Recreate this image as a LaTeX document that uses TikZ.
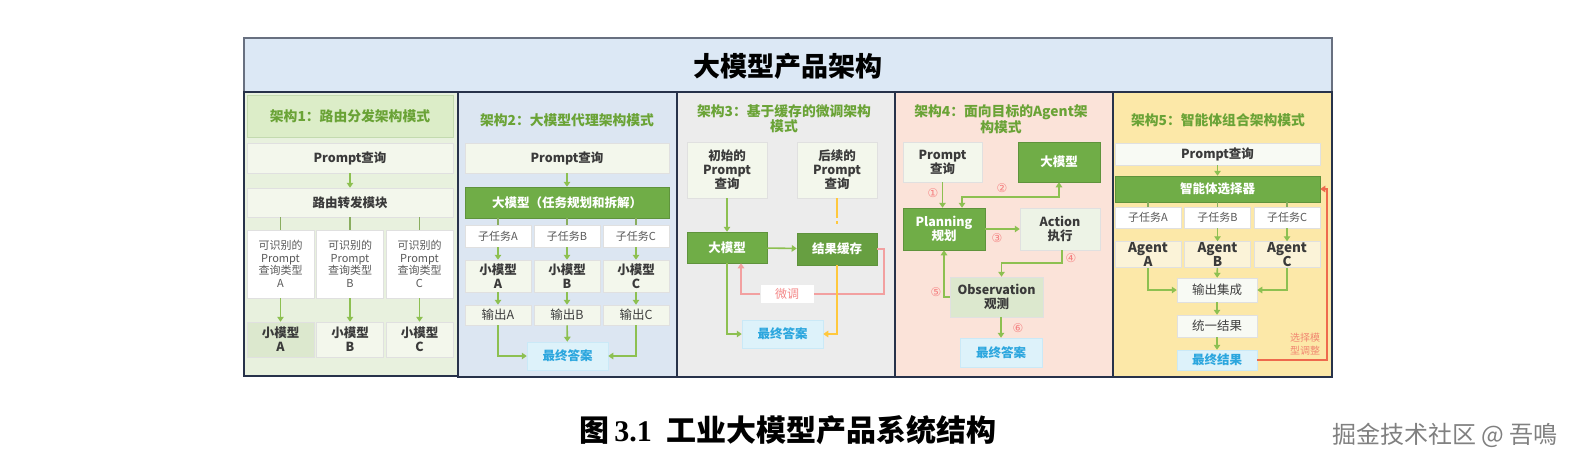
\documentclass[tikz,border=0pt]{standalone}
\usepackage{fontspec}
\usetikzlibrary{arrows.meta, calc}
\newfontfamily\cjk{Noto Sans CJK SC}
\newfontfamily\symfont{DejaVu Sans}
\newfontfamily\capserif{Liberation Serif}

\definecolor{bandblue}{HTML}{DCE8F5}
\definecolor{framenavy}{HTML}{27324A}
\definecolor{bgone}{HTML}{E8F1DE}
\definecolor{bgtwo}{HTML}{DCE6F2}
\definecolor{bgthree}{HTML}{ECECEC}
\definecolor{bgfour}{HTML}{FBE3D9}
\definecolor{bgfive}{HTML}{FCE8A8}
\definecolor{titlegreen}{HTML}{6AA336}
\definecolor{titlebox}{HTML}{DCEDC8}
\definecolor{boxgreen}{HTML}{70AD47}
\definecolor{arrowgreen}{HTML}{8DC051}
\definecolor{anscyan}{HTML}{2BA6DE}
\definecolor{ansfill}{HTML}{DDF2FA}
\definecolor{lightbox}{HTML}{F3F7EC}
\definecolor{obsgreen}{HTML}{DCE8CE}
\definecolor{agentbox}{HTML}{FBF3D8}
\definecolor{pinkline}{HTML}{F2A0A0}
\definecolor{yellowline}{HTML}{FFC83D}
\definecolor{redline}{HTML}{EE6A4D}
\definecolor{textgray}{HTML}{3A3A3A}

\begin{document}
\begin{tikzpicture}[x=1pt, y=-1pt,
  panel/.style={draw=framenavy, line width=1.3pt},
  ptitle/.style={font=\cjk\fontsize{13.8}{15}\selectfont\bfseries, text=titlegreen, align=center},
  sz/.style 2 args={minimum width=#1pt, minimum height=#2pt},
  box/.style={draw=black!12, line width=0.5pt, fill=lightbox, inner sep=0pt, align=center,
    text=textgray, font=\cjk\fontsize{12.5}{14}\selectfont\bfseries},
  thinbox/.style={box, fill=white, text=black!65, font=\cjk\fontsize{11}{12.5}\selectfont},
  outbox/.style={box, text=black!75, font=\cjk\fontsize{12.5}{14}\selectfont},
  gbox/.style={box, fill=boxgreen, draw=boxgreen!85!black, text=white},
  ans/.style={box, fill=ansfill, draw=anscyan!25, text=anscyan},
  agentfont/.style={font=\cjk\fontsize{13.5}{13}\selectfont\bfseries},
  arr/.style={-{Triangle[length=5pt,width=6.5pt]}, draw=arrowgreen, line width=1.6pt},
  tick/.style={draw=arrowgreen!70!gray, line width=1.2pt},
  num/.style={font=\symfont\fontsize{12}{12}\selectfont, text=pinkline!80!red},
]
  \useasboundingbox (0,0) rectangle (1579,467);

  % =============== 总标题栏 ===============
  \draw[fill=bandblue, draw=framenavy!70, line width=1.3pt] (244,38) rectangle (1332,92);
  \node[font=\cjk\fontsize{27}{29}\selectfont\bfseries] (main) at (788,66) {大模型产品架构};

  % 五个分栏底色
  \draw[panel, fill=bgone]   (244,92)  rectangle (458,376);
  \draw[panel, fill=bgtwo]   (458,92)  rectangle (677,377);
  \draw[panel, fill=bgthree] (677,92)  rectangle (895,377);
  \draw[panel, fill=bgfour]  (895,92)  rectangle (1113,377);
  \draw[panel, fill=bgfive]  (1113,92) rectangle (1332,377);

  % =============== 架构1: 路由分发 ===============
  \node[box, sz={206}{42}, fill=titlebox, draw=titlegreen!40, ptitle] (t1) at (350,116) {架构1：路由分发架构模式};
  \node[box, sz={206}{30}] (q1) at (350,158) {Prompt查询};
  \node[box, sz={206}{29}] (r1) at (350,202.5) {路由转发模块};
  \node[thinbox, sz={67}{68}] (c1a) at (280.5,264) {可识别的\\Prompt\\查询类型\\A};
  \node[thinbox, sz={67}{68}] (c1b) at (350,264)   {可识别的\\Prompt\\查询类型\\B};
  \node[thinbox, sz={67}{68}] (c1c) at (419.5,264) {可识别的\\Prompt\\查询类型\\C};
  \node[box, sz={67}{35}, fill=obsgreen] (m1a) at (280.5,339.5) {小模型\\A};
  \node[box, sz={67}{35}] (m1b) at (350,339.5)   {小模型\\B};
  \node[box, sz={67}{35}] (m1c) at (419.5,339.5) {小模型\\C};

  \draw[arr] (q1) -- (r1);
  \foreach \k in {a,b,c}{
    \draw[tick] (r1.south -| c1\k) -- (c1\k.north);
    \draw[arr] (c1\k) -- (m1\k);
  }

  % =============== 架构2: 大模型代理 ===============
  \node[ptitle] (t2) at (567,120) {架构2：大模型代理架构模式};
  \node[box, sz={204}{30}] (q2) at (567,158) {Prompt查询};
  \node[gbox, sz={204}{31}] (l2) at (567,202.5) {大模型（任务规划和拆解）};
  \node[thinbox, sz={66}{22}] (s2a) at (498,236) {子任务A};
  \node[thinbox, sz={66}{22}] (s2b) at (567,236) {子任务B};
  \node[thinbox, sz={66}{22}] (s2c) at (636,236) {子任务C};
  \node[box, sz={66}{32}] (m2a) at (498,276) {小模型\\A};
  \node[box, sz={66}{32}] (m2b) at (567,276) {小模型\\B};
  \node[box, sz={66}{32}] (m2c) at (636,276) {小模型\\C};
  \node[outbox, sz={66}{20}] (o2a) at (498,315) {输出A};
  \node[outbox, sz={66}{20}] (o2b) at (567,315) {输出B};
  \node[outbox, sz={66}{20}] (o2c) at (636,315) {输出C};
  \node[ans, sz={81}{28}] (f2) at (567.5,356) {最终答案};

  \draw[arr] (q2) -- (l2);
  \foreach \k in {a,b,c}{
    \draw[tick] (l2.south -| s2\k) -- (s2\k.north);
    \draw[arr] (s2\k) -- (m2\k);
    \draw[arr] (m2\k) -- (o2\k);
  }
  \draw[arr] (o2b) -- (f2);
  \draw[arr] (o2a.south) |- (f2.west);
  \draw[arr] (o2c.south) |- (f2.east);

  % =============== 架构3: 基于缓存的微调 ===============
  \node[ptitle] (t3) at (784,119) {架构3：基于缓存的微调架构\\模式};
  \node[box, sz={80}{56}] (i3) at (727,170) {初始的\\Prompt\\查询};
  \node[box, sz={80}{56}] (h3) at (837,170) {后续的\\Prompt\\查询};
  \node[gbox, sz={80}{31}] (l3) at (727,247.5) {大模型};
  \node[gbox, sz={80}{32}, fill=boxgreen!92!black] (c3) at (837,249) {结果缓存};
  \node[ans, sz={81}{28}] (f3) at (782.5,334) {最终答案};
  \node[box, sz={53}{18}, fill=white, draw=none, text=pinkline!85!red,
        font=\cjk\fontsize{12}{13}\selectfont] (w3) at (787,294) {微调};
  \coordinate (k3) at (884,294);

  \draw[arr] (i3) -- (l3);
  \draw[arr] (l3) -- (c3);
  \draw[draw=yellowline, line width=2.5pt, dash pattern=on 20pt off 3pt on 3pt off 20pt] (h3.south) -- (c3.north);
  \draw[draw=pinkline, line width=1.6pt] (c3.east) -| (k3) -- (w3.east);
  \draw[arr, draw=pinkline] (w3.west) -| ([xshift=14pt]l3.south);
  \draw[arr] (l3.south) |- (f3.west);
  \draw[arr, draw=yellowline] (c3.south) |- (f3.east);

  % =============== 架构4: 面向目标的Agent ===============
  \node[ptitle] (t4) at (1001,119) {架构4：面向目标的Agent架\\构模式};
  \node[box, sz={79}{40}] (q4) at (942.5,162) {Prompt\\查询};
  \node[gbox, sz={82}{40}] (l4) at (1059,162) {大模型};
  \node[gbox, sz={82}{42}] (p4) at (944,229) {Planning\\规划};
  \node[box, sz={80}{42}, fill=obsgreen!50!white] (a4) at (1060,229) {Action\\执行};
  \node[box, sz={93}{40}, fill=obsgreen] (o4) at (996.5,297) {Observation\\观测};
  \node[ans, sz={82}{29}] (f4) at (1001,352.5) {最终答案};

  \draw[arr] (q4.south) -- (q4.south |- p4.north);
  \draw[arr, {Triangle[length=5pt,width=6.5pt]}-{Triangle[length=5pt,width=6.5pt]}]
    ([xshift=18pt]p4.north) -- ++(0,-11) -| (l4.south);
  \draw[arr] (p4) -- (a4);
  \draw[arr] ([xshift=2pt]a4.south) -- ++(0,13) -| ([xshift=5pt]o4.north);
  \draw[arr] (o4.west) -| (p4.south);
  \draw[arr] (o4.south -| f4) -- (f4.north);
  \node[num] (n1) at (933,193)  {①};
  \node[num] (n2) at (1002,188) {②};
  \node[num] (n3) at (997,238)  {③};
  \node[num] (n4) at (1071,258) {④};
  \node[num] (n5) at (936,292)  {⑤};
  \node[num] (n6) at (1018,328) {⑥};

  % =============== 架构5: 智能体组合 ===============
  \node[ptitle] (t5) at (1218,120) {架构5：智能体组合架构模式};
  \node[box, sz={205}{22}, fill=lightbox!60!white] (q5) at (1217.5,154) {Prompt查询};
  \node[gbox, sz={205}{26}] (s5) at (1217.5,189) {智能体选择器};
  \node[thinbox, sz={66}{21}] (u5a) at (1148,217.5)   {子任务A};
  \node[thinbox, sz={66}{21}] (u5b) at (1217.5,217.5) {子任务B};
  \node[thinbox, sz={66}{21}] (u5c) at (1287,217.5)   {子任务C};
  \node[box, sz={66}{26}, fill=agentbox, agentfont] (g5a) at (1148,254.5)   {Agent\\A};
  \node[box, sz={66}{26}, fill=agentbox, agentfont] (g5b) at (1217.5,254.5) {Agent\\B};
  \node[box, sz={66}{26}, fill=agentbox, agentfont] (g5c) at (1287,254.5)   {Agent\\C};
  \node[outbox, sz={80}{24}, fill=lightbox!60!white] (i5) at (1217,290) {输出集成};
  \node[outbox, sz={80}{22}, fill=lightbox!60!white] (n5b) at (1217,326) {统一结果};
  \node[ans, sz={80}{20}] (f5) at (1217,360) {最终结果};
  \coordinate (k5) at (1327,189);

  \draw[arr] (q5) -- (s5);
  \foreach \k in {a,b,c}{
    \draw[tick] (s5.south -| u5\k) -- (u5\k.north);
  }
  \draw[arr] (u5b) -- (g5b);
  \draw[arr] (u5c) -- (g5c);
  \draw[arr] (g5a.south) |- (i5.west);
  \draw[arr] (g5c.south) |- (i5.east);
  \draw[arr] (g5b) -- (i5);
  \draw[arr] (i5) -- (n5b);
  \draw[arr] (n5b) -- (f5);
  \draw[arr, draw=redline, line width=1.2pt] (f5.east) -| (k5) -- (s5.east);
  \node[align=center, text=redline!80, font=\cjk\fontsize{10}{13}\selectfont] (sel) at (1305,344) {选择模\\型调整};

  % =============== 图题与水印 ===============
  \node[font=\cjk\fontsize{30}{32}\selectfont\bfseries] (cap) at (788,430)
    {图\,{\capserif\bfseries 3.1}\enspace 工业大模型产品系统结构};
  \node[font=\cjk\fontsize{24}{26}\selectfont, text=black!50] (mark) at (1445,435) {掘金技术社区 @ 吾鳴};
\end{tikzpicture}
\end{document}
